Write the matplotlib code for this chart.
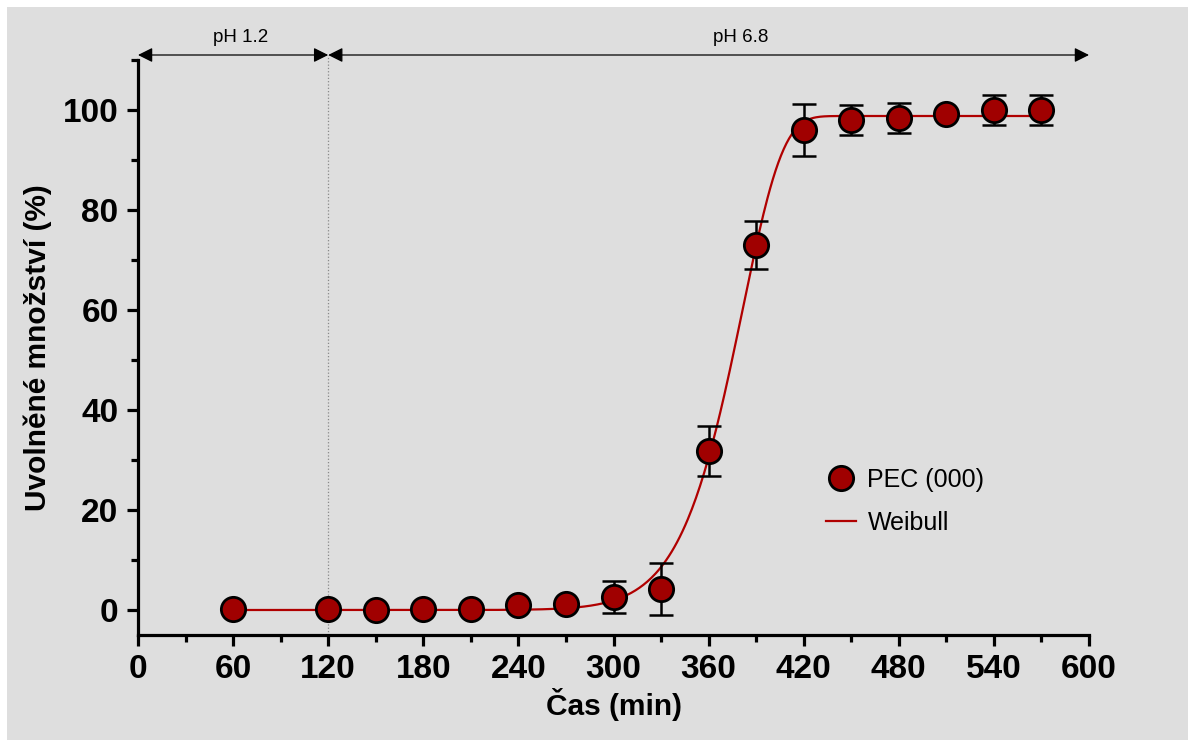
import numpy as np
import matplotlib.pyplot as plt
from matplotlib.patches import Rectangle
from matplotlib.ticker import MultipleLocator

# measured release data
time_min = [60, 120, 150, 180, 210, 240, 270, 300, 330, 360, 390, 420, 450, 480, 510, 540, 570]
released = [0.3, 0.3, 0.0, 0.2, 0.3, 1.0, 1.3, 2.6, 4.2, 31.8, 73.0, 96.0, 98.0, 98.5, 99.2, 100.0, 100.0]
released_sd = [0.0, 0.0, 0.0, 0.0, 0.0, 0.0, 0.0, 3.2, 5.2, 5.0, 4.8, 5.2, 3.0, 3.0, 0.0, 3.0, 3.0]

# Weibull fit parameters (estimated from the curve)
weib_fmax = 98.8
weib_td = 383.0
weib_beta = 16.1

xticks = [0, 60, 120, 180, 240, 300, 360, 420, 480, 540, 600]
yticks = [0, 20, 40, 60, 80, 100]
ph_change = 120

plt.rcParams['font.family'] = ['Liberation Sans', 'DejaVu Sans']

fig = plt.figure(figsize=(11.9, 7.4), dpi=100, facecolor='white')
fig.patches.append(Rectangle((7 / 1190, 0), 1181 / 1190, 733 / 740, transform=fig.transFigure,
                             facecolor='#dedede', edgecolor='none', zorder=-10))
ax = fig.add_axes([138 / 1190, 105 / 740, 951 / 1190, 575 / 740])
ax.set_facecolor('none')

red = '#a00000'
t = np.linspace(time_min[0], time_min[-1], 600)
fit = weib_fmax * (1 - np.exp(-(t / weib_td) ** weib_beta))
ax.plot(t, fit, color='#b00000', lw=1.6, label='Weibull', zorder=2)

ax.errorbar(time_min, released, yerr=released_sd, fmt='none', ecolor='black',
            elinewidth=1.8, capsize=8.5, capthick=1.8, zorder=3)
ax.plot(time_min, released, 'o', ms=17.5, mfc=red, mec='black', mew=2,
        label='PEC (000)', zorder=4, linestyle='none')

ax.set_xlim(0, 600)
ax.set_ylim(-5, 110)
ax.set_xticks(xticks)
ax.set_yticks(yticks)
ax.xaxis.set_minor_locator(MultipleLocator(30))
ax.yaxis.set_minor_locator(MultipleLocator(10))

for s in ['top', 'right']:
    ax.spines[s].set_visible(False)
for s in ['left', 'bottom']:
    ax.spines[s].set_linewidth(2.3)
ax.tick_params(which='major', length=8, width=2.3, labelsize=24, pad=6)
ax.tick_params(which='minor', length=5, width=2.3)
for lab in ax.get_xticklabels() + ax.get_yticklabels():
    lab.set_fontweight('bold')

ax.set_xlabel('Čas (min)', fontsize=21.5, fontweight='bold', labelpad=2)
ax.set_ylabel('Uvolněné množství (%)', fontsize=21.5, fontweight='bold', labelpad=8)

# pH phase divider and arrows
ax.plot([ph_change, ph_change], [-5, 111], color='#888888', lw=0.9, ls=':', clip_on=False, zorder=1)
arrow_y = 111
for x0, x1 in [(0, ph_change), (ph_change, 600)]:
    ax.annotate('', xy=(x0, arrow_y), xytext=(x1, arrow_y), xycoords='data',
                arrowprops=dict(arrowstyle='<|-|>', color='black', lw=0.9,
                                mutation_scale=22, shrinkA=0, shrinkB=0),
                annotation_clip=False)
ax.text(65, 114.5, 'pH 1.2', ha='center', va='center', fontsize=13.5)
ax.text(380, 114.5, 'pH 6.8', ha='center', va='center', fontsize=13.5)

handles, labels = ax.get_legend_handles_labels()
ax.legend(handles[::-1], labels[::-1], loc='upper left', bbox_to_anchor=(0.70, 0.33), frameon=False,
          fontsize=18, handlelength=1.2, handletextpad=0.45, labelspacing=0.75)

fig.savefig('out.png', dpi=100, facecolor=fig.get_facecolor())
